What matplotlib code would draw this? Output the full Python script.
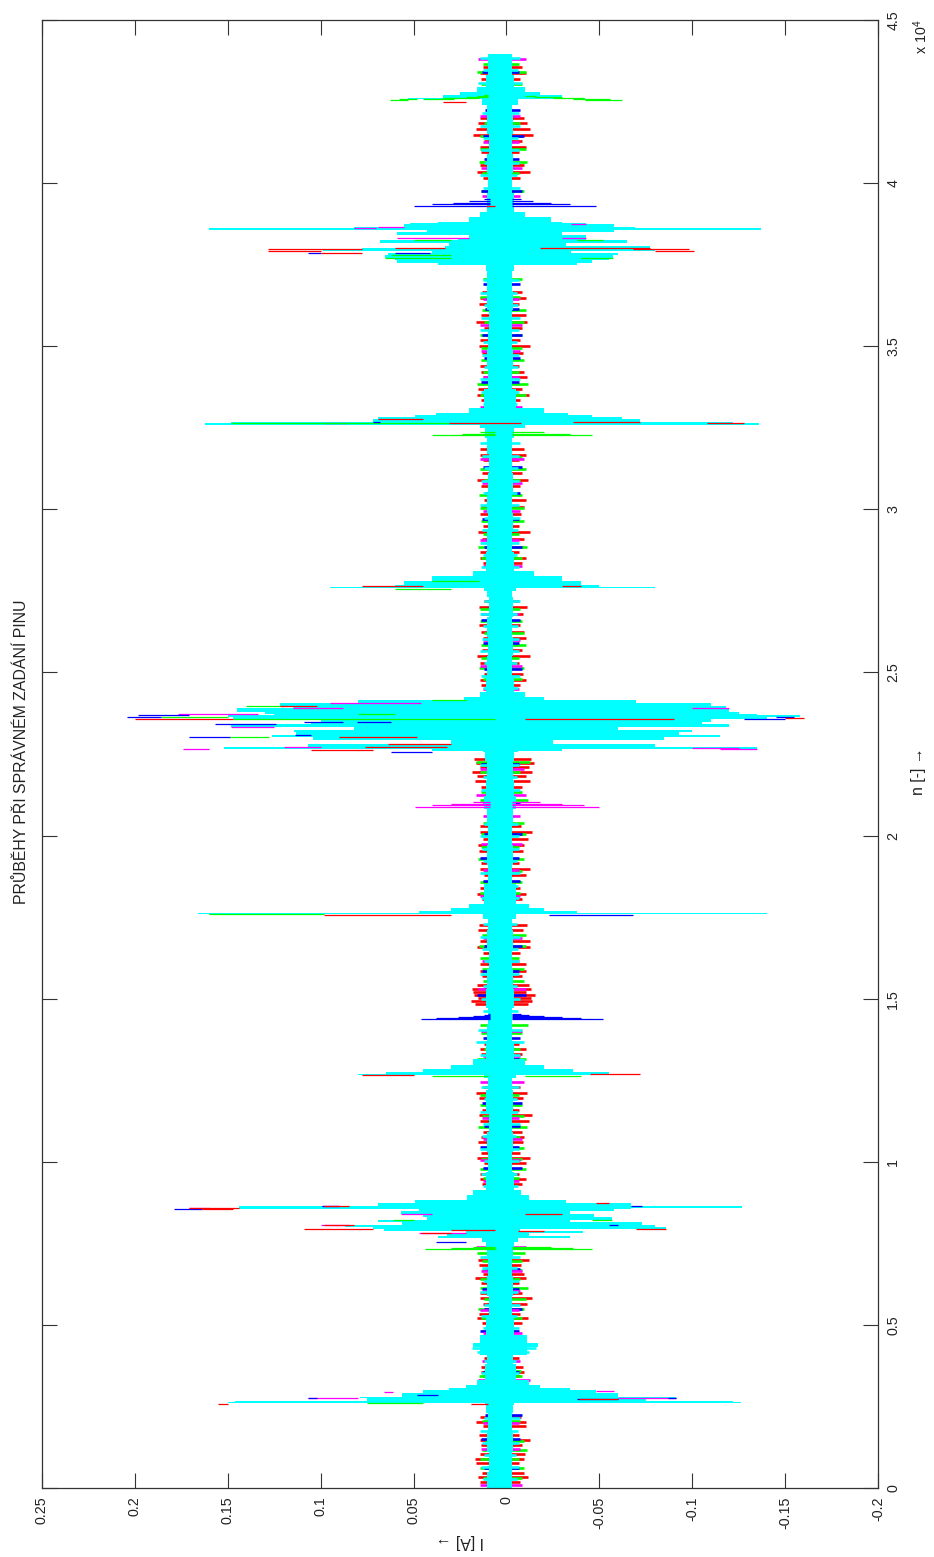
import matplotlib
matplotlib.use("Agg")
import matplotlib.pyplot as plt

plt.rcParams['font.family'] = ['Liberation Sans', 'DejaVu Sans']
plt.rcParams['mathtext.default'] = 'regular'

current_ticks = [0.25, 0.2, 0.15, 0.1, 0.05, 0, -0.05, -0.1, -0.15, -0.2]
current_labels = ['0.25', '0.2', '0.15', '0.1', '0.05', '0', '-0.05', '-0.1', '-0.15', '-0.2']
sample_ticks = [0, 5000, 10000, 15000, 20000, 25000, 30000, 35000, 40000, 45000]
sample_labels = ['0', '0.5', '1', '1.5', '2', '2.5', '3', '3.5', '4', '4.5']

# cyan trace, envelope read row by row (sample, upper, lower)
cyan_n = [0, 500, 1100, 1700, 2300, 2540,
          2600, 2640, 2680, 2750, 2800, 2880, 2920, 3000, 3080, 3170, 3300,
          3800, 4080, 4320, 4440, 4700, 5300, 5900, 6500, 7100, 7330, 7540, 7660, 7720,
          7810, 7880, 7940, 8000, 8060, 8150, 8215, 8320, 8400, 8490, 8550, 8580, 8640, 8730, 8830, 8980, 9150,
          9700, 10300, 10900, 11500, 12200, 12560,
          12650, 12700, 12760, 12850, 12980, 13150,
          13700, 14200, 14700, 15300, 15900, 16500, 17100, 17450,
          17590, 17630, 17680, 17780, 17900,
          18500, 19100, 19700, 20300, 20800, 21200, 21700, 22300, 22560,
          22600, 22650, 22710, 22800, 22925, 23020, 23080, 23170, 23230, 23325, 23415, 23480, 23570, 23630,
          23690, 23720, 23780, 23900, 23970, 24060, 24150, 24250, 24400,
          24900, 25500, 26100, 26700, 27300, 27500,
          27580, 27620, 27680, 27800, 27950, 28100,
          28700, 29300, 29900, 30500, 31100, 31700, 32200,
          32500, 32580, 32640, 32680, 32760, 32820, 32880, 32960, 33100,
          33700, 34300, 34900, 35500, 36100, 36700, 37300,
          37490, 37550, 37640, 37700, 37790, 37860, 37920, 37970, 38010, 38070, 38160, 38250, 38310, 38400, 38500,
          38560, 38620, 38650, 38740, 38770, 38800, 38950, 39100,
          39700, 40300, 40900, 41500, 42100, 42400,
          42570, 42620, 42700, 42800, 42950,
          43300, 43700, 43950]
cyan_hi = [0.0105, 0.0095, 0.0105, 0.0098, 0.0108, 0.0115,
           0.150, 0.146, 0.075, 0.079, 0.056, 0.056, 0.045, 0.031, 0.022, 0.016, 0.0115,
           0.0105, 0.014, 0.018, 0.014, 0.011, 0.0095, 0.0105, 0.0098, 0.0105, 0.011, 0.013, 0.037, 0.032,
           0.022, 0.066, 0.072, 0.087, 0.056, 0.069, 0.043, 0.045, 0.057, 0.047, 0.147, 0.144, 0.069, 0.049, 0.021, 0.018, 0.011,
           0.0098, 0.0105, 0.0095, 0.0108, 0.010, 0.012,
           0.080, 0.065, 0.045, 0.030, 0.018, 0.011,
           0.0102, 0.0098, 0.011, 0.0105, 0.0095, 0.0105, 0.010, 0.0125,
           0.166, 0.047, 0.030, 0.020, 0.012,
           0.0098, 0.0105, 0.010, 0.0105, 0.012, 0.011, 0.0105, 0.0115, 0.0125,
           0.040, 0.152, 0.1066, 0.030, 0.104, 0.126, 0.1135, 0.1146, 0.082, 0.148, 0.105, 0.100, 0.147, 0.150,
           0.125, 0.130, 0.145, 0.115, 0.122, 0.080, 0.023, 0.014, 0.011,
           0.0102, 0.0098, 0.0105, 0.0095, 0.0105, 0.012,
           0.095, 0.060, 0.055, 0.040, 0.018, 0.011,
           0.0105, 0.0098, 0.0105, 0.010, 0.0095, 0.0105, 0.0115,
           0.014, 0.162, 0.148, 0.072, 0.069, 0.049, 0.038, 0.020, 0.012,
           0.0098, 0.0105, 0.010, 0.0095, 0.0105, 0.0102, 0.011,
           0.037, 0.059, 0.060, 0.0656, 0.0635, 0.040, 0.0985, 0.078, 0.033, 0.031, 0.068, 0.026, 0.020, 0.059, 0.0425,
           0.160, 0.082, 0.055, 0.052, 0.037, 0.020, 0.014, 0.0105,
           0.0098, 0.0105, 0.0095, 0.0102, 0.0105, 0.013,
           0.053, 0.034, 0.025, 0.016, 0.011,
           0.010, 0.0098, 0.0098]
cyan_lo = [-0.0032, -0.0028, -0.0035, -0.003, -0.0035, -0.004,
           -0.126, -0.122, -0.075, -0.0915, -0.060, -0.060, -0.048, -0.034, -0.018, -0.012, -0.005,
           -0.0035, -0.011, -0.017, -0.011, -0.004, -0.003, -0.0035, -0.003, -0.0035, -0.004, -0.006, -0.034, -0.012,
           -0.041, -0.0075, -0.086, -0.080, -0.073, -0.034, -0.057, -0.047, -0.034, -0.058, -0.067, -0.127, -0.067, -0.032, -0.012, -0.008, -0.004,
           -0.003, -0.0035, -0.0028, -0.0035, -0.003, -0.005,
           -0.072, -0.055, -0.036, -0.020, -0.010, -0.004,
           -0.003, -0.0032, -0.004, -0.0035, -0.003, -0.0035, -0.003, -0.005,
           -0.140, -0.038, -0.020, -0.012, -0.005,
           -0.003, -0.0035, -0.0032, -0.0035, -0.005, -0.004, -0.0035, -0.004, -0.006,
           -0.030, -0.135, -0.080, -0.025, -0.085, -0.115, -0.093, -0.100, -0.060, -0.120, -0.105, -0.110, -0.140, -0.158,
           -0.135, -0.125, -0.120, -0.118, -0.110, -0.070, -0.020, -0.010, -0.004,
           -0.003, -0.0035, -0.003, -0.0035, -0.003, -0.005,
           -0.080, -0.050, -0.040, -0.030, -0.015, -0.004,
           -0.003, -0.0035, -0.003, -0.0035, -0.003, -0.0032, -0.004,
           -0.010, -0.136, -0.122, -0.072, -0.062, -0.046, -0.033, -0.020, -0.005,
           -0.003, -0.0035, -0.0032, -0.003, -0.0035, -0.003, -0.004,
           -0.038, -0.046, -0.055, -0.0575, -0.060, -0.035, -0.080, -0.068, -0.0775, -0.032, -0.065, -0.043, -0.043, -0.030, -0.058,
           -0.137, -0.069, -0.058, -0.043, -0.030, -0.024, -0.010, -0.004,
           -0.003, -0.0035, -0.003, -0.0035, -0.0032, -0.006,
           -0.0425, -0.030, -0.018, -0.010, -0.004,
           -0.003, -0.0032, -0.003]

# short cyan tips sticking out of the band (sample, upper, lower)
cyan_tip_n = [270, 640, 1010, 1390, 1760, 2140, 3520, 3900, 4180, 4280, 4380, 4900, 5260, 5620, 6000, 6360, 6730, 7080,
              9260, 9640, 10020, 10400, 10780, 11160, 11540, 11920, 12300, 13280, 13660, 14040, 14620, 15000, 15380, 15760, 16140, 16520, 16900, 17280,
              18080, 18460, 18840, 19220, 19600, 19980, 20360, 21400, 21780, 22160,
              24520, 24900, 25280, 25660, 26040, 26420, 26800, 27180, 28220, 28600, 28980, 29360, 29740, 30120, 30500, 30880, 31260, 31640, 32020,
              33220, 33600, 33980, 34360, 34740, 35120, 35500, 35880, 36260, 36640, 37020,
              39080, 39860, 40240, 40620, 41000, 41380, 41760, 42140, 43080, 43460, 43840]
cyan_tip_hi = [0.0125, 0.0135, 0.012, 0.013, 0.0145, 0.012, 0.0135, 0.012, 0.016, 0.0185, 0.0165, 0.0125, 0.0135, 0.012, 0.014, 0.0125, 0.013, 0.0145,
               0.0125, 0.0135, 0.012, 0.014, 0.013, 0.0125, 0.0145, 0.012, 0.0135, 0.0145, 0.0165, 0.0155, 0.0125, 0.0135, 0.0125, 0.014, 0.012, 0.013, 0.0145, 0.0125,
               0.0135, 0.012, 0.014, 0.0125, 0.013, 0.0145, 0.012, 0.0135, 0.0125, 0.014,
               0.0125, 0.0135, 0.012, 0.0145, 0.013, 0.0125, 0.014, 0.012, 0.0135, 0.0125, 0.0145, 0.013, 0.012, 0.014, 0.0125, 0.0135, 0.012, 0.013, 0.0145,
               0.0125, 0.0135, 0.0145, 0.012, 0.013, 0.0125, 0.0145, 0.0135, 0.012, 0.014, 0.0125,
               0.013, 0.0125, 0.0145, 0.012, 0.0135, 0.0125, 0.014, 0.013, 0.0155, 0.0125, 0.014]
cyan_tip_lo = [-0.0055, -0.0065, -0.005, -0.007, -0.006, -0.0075, -0.0065, -0.005, -0.012, -0.016, -0.0125, -0.0065, -0.0055, -0.0075, -0.006, -0.0065, -0.0055, -0.0075,
               -0.006, -0.0055, -0.007, -0.0065, -0.005, -0.0075, -0.006, -0.0055, -0.007, -0.0075, -0.0095, -0.0085, -0.006, -0.0075, -0.0055, -0.0065, -0.007, -0.006, -0.0075, -0.0055,
               -0.0065, -0.006, -0.0075, -0.0055, -0.0065, -0.007, -0.006, -0.0075, -0.0055, -0.0065,
               -0.006, -0.0075, -0.0055, -0.0065, -0.007, -0.006, -0.0055, -0.0075, -0.0065, -0.0055, -0.007, -0.006, -0.0075, -0.0065, -0.0055, -0.007, -0.006, -0.0065, -0.0075,
               -0.0055, -0.0065, -0.0075, -0.006, -0.007, -0.0055, -0.0065, -0.0075, -0.006, -0.0055, -0.007,
               -0.0065, -0.0075, -0.0055, -0.0065, -0.007, -0.006, -0.0075, -0.0065, -0.0085, -0.006, -0.0075]

# small tips of each trace around the cyan band (sample, upper, lower)
red_n = [180, 460, 760, 1040, 1330, 1620, 1900, 2180, 3420, 3700, 3980, 5050, 5340, 5650, 5980, 6280, 6560, 6850,
         9320, 9620, 9960, 10280, 10600, 10900, 11240, 11600, 11950, 12280, 13300, 13620, 14840, 15020, 15200, 15420,
         15700, 16050, 16400, 16780, 17120, 18050, 18400, 18780, 19150, 19520, 19900, 20300, 21500, 21820, 22100, 22350,
         24600, 24950, 25300, 25700, 26050, 26450, 26800, 27200, 28350, 28700, 29100, 29500, 29850, 30300, 30700, 31100,
         31500, 31850, 33350, 33700, 34050, 34400, 34800, 35200, 35550, 35950, 36300, 36650, 40150, 40550, 40950, 41300, 41650, 42000, 43200, 43550,
         330, 900, 1480, 2020, 3560, 5200, 5820, 6430, 7000, 9470, 10120, 10750, 11420, 12120, 13460, 14930, 15110, 15310, 15860, 16590, 17270,
         18220, 18960, 19710, 20110, 21660, 21960, 22230, 24780, 25500, 26250, 27000, 28520, 29300, 30080, 30900, 31680, 33520, 34220, 35000, 35750, 36480,
         40350, 41120, 41480, 41830, 43380]
red_hi = [0.0145, 0.013, 0.0165, 0.014, 0.0135, 0.015, 0.0125, 0.0145, 0.0125, 0.0135, 0.012, 0.013, 0.015, 0.0125, 0.014, 0.0135, 0.0125, 0.015,
          0.013, 0.0145, 0.012, 0.0135, 0.0155, 0.0125, 0.014, 0.013, 0.015, 0.0125, 0.0135, 0.012, 0.017, 0.0155, 0.018, 0.016,
          0.013, 0.0145, 0.0125, 0.014, 0.0155, 0.013, 0.0145, 0.012, 0.0135, 0.015, 0.0125, 0.014, 0.0135, 0.016, 0.0145, 0.0175,
          0.0135, 0.012, 0.0145, 0.013, 0.0125, 0.015, 0.0135, 0.012, 0.0125, 0.014, 0.013, 0.0125, 0.0145, 0.012, 0.0135, 0.013,
          0.0125, 0.014, 0.0135, 0.0155, 0.0125, 0.014, 0.013, 0.0145, 0.012, 0.0135, 0.015, 0.013, 0.0125, 0.0145, 0.0135, 0.012, 0.0165, 0.014, 0.0135, 0.0125,
          0.0155, 0.017, 0.0145, 0.0165, 0.0135, 0.016, 0.0145, 0.017, 0.0155, 0.0145, 0.016, 0.0135, 0.015, 0.0165, 0.014, 0.019, 0.0175, 0.0185, 0.0145, 0.016, 0.015,
          0.016, 0.014, 0.0155, 0.0145, 0.017, 0.0185, 0.0165, 0.0145, 0.016, 0.0135, 0.015, 0.0145, 0.0155, 0.0135, 0.016, 0.0145, 0.016, 0.0135, 0.015, 0.0165, 0.014,
          0.016, 0.0145, 0.018, 0.0155, 0.0145]
red_lo = [-0.0075, -0.0095, -0.0065, -0.010, -0.0085, -0.007, -0.0105, -0.008, -0.0075, -0.009, -0.0065, -0.0085, -0.0075, -0.011, -0.0085, -0.007, -0.0095, -0.008,
          -0.0085, -0.0065, -0.0105, -0.0075, -0.009, -0.0085, -0.012, -0.007, -0.009, -0.0075, -0.0085, -0.0065, -0.0115, -0.013, -0.0105, -0.012,
          -0.0085, -0.0105, -0.0075, -0.0125, -0.009, -0.0085, -0.0075, -0.0105, -0.0065, -0.009, -0.0115, -0.008, -0.0085, -0.0105, -0.012, -0.013,
          -0.0075, -0.009, -0.0065, -0.0085, -0.0105, -0.0075, -0.009, -0.0065, -0.0085, -0.007, -0.0095, -0.0065, -0.008, -0.0105, -0.0075, -0.0085,
          -0.0065, -0.0095, -0.0075, -0.0085, -0.011, -0.0065, -0.009, -0.0075, -0.0085, -0.0105, -0.007, -0.0085, -0.0075, -0.0095, -0.0065, -0.0085, -0.0125, -0.0095, -0.0075, -0.0085,
          -0.0115, -0.0095, -0.0125, -0.0105, -0.0095, -0.0115, -0.0135, -0.0105, -0.012, -0.0105, -0.0125, -0.0095, -0.0135, -0.011, -0.0105, -0.014, -0.0155, -0.013, -0.0105, -0.0125, -0.011,
          -0.0105, -0.0125, -0.0095, -0.0135, -0.0125, -0.014, -0.015, -0.0105, -0.0125, -0.0095, -0.011, -0.0105, -0.0125, -0.0095, -0.0115, -0.0105, -0.012, -0.0095, -0.0125, -0.011, -0.0105,
          -0.0125, -0.0105, -0.0145, -0.011, -0.0105]

green_n = [320, 880, 1450, 2050, 3600, 4520, 5200, 5800, 6400, 6950, 7200, 9500, 10100, 10750, 11400, 12050, 13450, 13950, 15550, 16250, 16950,
           18250, 18900, 19650, 20400, 21350, 21950, 24800, 25450, 26200, 26950, 28500, 29250, 30050, 30900, 31600, 33500, 34200, 34950, 35750, 36500,
           37050, 40300, 41050, 41850, 43050, 43650,
           600, 1180, 3440, 4660, 5480, 6120, 6680, 9780, 10430, 11080, 11730, 13150, 14200, 15900, 16600, 18580, 19280, 20050, 21090, 22250,
           25130, 25830, 26580, 28860, 29630, 30450, 31250, 33850, 34580, 35330, 36120, 39750, 40650, 41450, 43400]
green_hi = [0.0125, 0.014, 0.0115, 0.013, 0.012, 0.0125, 0.0135, 0.012, 0.014, 0.013, 0.016, 0.0125, 0.0135, 0.012, 0.013, 0.0145, 0.012, 0.0135, 0.0125, 0.014, 0.013,
            0.0145, 0.012, 0.0135, 0.0125, 0.0135, 0.014, 0.0125, 0.0135, 0.012, 0.014, 0.0135, 0.0125, 0.014, 0.012, 0.013, 0.0145, 0.0125, 0.0135, 0.012, 0.0145,
            0.0125, 0.013, 0.0145, 0.012, 0.0135, 0.0125,
            0.0145, 0.013, 0.015, 0.0135, 0.0155, 0.014, 0.013, 0.0145, 0.0135, 0.0155, 0.014, 0.016, 0.0145, 0.013, 0.015, 0.014, 0.0155, 0.0135, 0.014, 0.0165,
            0.015, 0.0135, 0.014, 0.0155, 0.0135, 0.015, 0.014, 0.016, 0.0135, 0.0145, 0.013, 0.0135, 0.015, 0.014, 0.016]
green_lo = [-0.0085, -0.0065, -0.0095, -0.0075, -0.008, -0.0065, -0.0085, -0.0105, -0.0075, -0.0085, -0.010, -0.0065, -0.0085, -0.0075, -0.0095, -0.0065, -0.0075, -0.0085, -0.0095, -0.0065, -0.0105,
            -0.0075, -0.0085, -0.0065, -0.0095, -0.0085, -0.0075, -0.0085, -0.0065, -0.0095, -0.0075, -0.0085, -0.0065, -0.0095, -0.0075, -0.0085, -0.0105, -0.0065, -0.0085, -0.0095, -0.0075,
            -0.0085, -0.0065, -0.0105, -0.0075, -0.0085, -0.0065,
            -0.0095, -0.011, -0.0085, -0.0105, -0.0095, -0.0115, -0.0085, -0.0105, -0.0095, -0.011, -0.0085, -0.0105, -0.0115, -0.0095, -0.0105, -0.0085, -0.0095, -0.0105, -0.0115, -0.0125,
            -0.0095, -0.0105, -0.0085, -0.011, -0.0095, -0.0085, -0.0105, -0.0115, -0.0095, -0.0085, -0.0105, -0.0095, -0.011, -0.0085, -0.0105]

blue_n = [600, 1500, 2250, 3550, 4800, 5500, 6100, 6700, 9800, 10450, 11100, 11800, 13150, 13800, 15100, 15850, 16600, 18600, 19300, 20050, 21000, 22200,
          25100, 25900, 26600, 28850, 29700, 30500, 31300, 33900, 34650, 35350, 36150, 36900, 39750, 40750, 41450, 42250, 43400]
blue_hi = [0.012, 0.0135, 0.0115, 0.0125, 0.014, 0.012, 0.013, 0.0115, 0.0125, 0.014, 0.012, 0.013, 0.0115, 0.0125, 0.016, 0.013, 0.012, 0.0125, 0.014, 0.012, 0.0125, 0.0135,
           0.012, 0.0125, 0.0135, 0.012, 0.013, 0.0115, 0.0125, 0.0135, 0.012, 0.013, 0.0115, 0.0125, 0.0135, 0.012, 0.0125, 0.0115, 0.013]
blue_lo = [-0.0065, -0.0075, -0.0085, -0.007, -0.0065, -0.0085, -0.0065, -0.0075, -0.0085, -0.0065, -0.0075, -0.0085, -0.0065, -0.0075, -0.0105, -0.0065, -0.0085, -0.0075, -0.0065, -0.0085, -0.0075, -0.0065,
           -0.0085, -0.0065, -0.0075, -0.0085, -0.0065, -0.0075, -0.0085, -0.0065, -0.0075, -0.0085, -0.0065, -0.0075, -0.0085, -0.0065, -0.0095, -0.0075, -0.0065]

magenta_n = [80, 1200, 2000, 3300, 3880, 4750, 5450, 6050, 6650, 7400, 9400, 10050, 10700, 11350, 12450, 13250, 14000, 15300, 16150, 16850, 18150, 18950, 19750, 20600,
             21250, 22050, 24500, 25200, 26000, 26800, 28250, 29050, 29950, 30800, 31550, 33150, 34050, 34850, 35650, 36450, 39600, 40450, 41250, 42050, 43800]
magenta_hi = [0.0145, 0.0135, 0.0125, 0.0155, 0.013, 0.0125, 0.014, 0.0125, 0.0135, 0.0165, 0.0125, 0.014, 0.0125, 0.013, 0.0145, 0.0125, 0.0135, 0.0155, 0.013, 0.0125, 0.014, 0.0125, 0.0135, 0.0125,
              0.0165, 0.0145, 0.0125, 0.014, 0.0125, 0.013, 0.0125, 0.014, 0.0125, 0.013, 0.0145, 0.0145, 0.0125, 0.0135, 0.014, 0.0125, 0.013, 0.0135, 0.0125, 0.014, 0.0155]
magenta_lo = [-0.0085, -0.0075, -0.0065, -0.0125, -0.0075, -0.0085, -0.0065, -0.0075, -0.0085, -0.0105, -0.0065, -0.0075, -0.0085, -0.0065, -0.0095, -0.0075, -0.0085, -0.0105, -0.0065, -0.0085, -0.0075, -0.0065, -0.0085, -0.0075,
              -0.0105, -0.0095, -0.0065, -0.0085, -0.0075, -0.0065, -0.0085, -0.0065, -0.0075, -0.0085, -0.0095, -0.0085, -0.0065, -0.0075, -0.0085, -0.0065, -0.0075, -0.0085, -0.0065, -0.0075, -0.0105]

# long spike pieces that stay visible over the cyan trace (sample, from, to)
red_burst_n = [2560, 2590, 2720, 7900, 8590, 8550, 8640, 8730, 8400, 8060, 7940, 7940, 7890, 7810, 12660, 12700, 17580,
               22620, 22710, 22800, 23020, 23570, 23570, 23590, 23970, 27640, 27650, 32640, 32640, 32680, 32760, 38010, 38010, 37970, 37970, 37920, 37920, 37860, 39300, 42500]
red_burst_a = [0.019, 0.155, -0.039, 0.030, 0.171, 0.164, 0.098, -0.048, -0.010, 0.098, 0.109, -0.070, -0.006, 0.046, 0.078, -0.045, 0.098,
               0.105, 0.076, 0.064, 0.090, 0.200, -0.090, -0.150, 0.122, 0.078, -0.040, 0.031, -0.108, -0.036, 0.069, 0.060, -0.018, 0.1286, -0.068, 0.1286, -0.080, 0.100, 0.011, 0.034]
red_burst_b = [0.010, 0.150, -0.060, 0.006, 0.144, 0.147, 0.085, -0.055, -0.030, 0.082, 0.072, -0.086, -0.020, 0.030, 0.050, -0.072, 0.030,
               0.072, 0.032, 0.030, 0.048, 0.147, -0.010, -0.160, 0.102, 0.045, -0.030, -0.008, -0.128, -0.072, 0.045, 0.033, -0.0775, 0.078, -0.098, 0.100, -0.101, 0.078, 0.006, 0.022]

green_burst_n = [2610, 7320, 7350, 7380, 8215, 8215, 12620, 12640, 17590, 23010, 23570, 23630, 23720, 23970, 24150, 27560, 27800, 32280, 32320, 32360, 32640,
                 37790, 37700, 37700, 38250, 38250, 42560, 42570, 42590, 42620, 42650, 42680, 42710, 42560, 42590, 42620, 42650, 42680,
                 7320, 7350, 7380, 32280, 32320, 32360]
green_burst_a = [0.075, 0.0440, 0.030, 0.018, 0.061, -0.046, 0.040, -0.040, 0.160, 0.149, 0.147, 0.186, 0.080, 0.140, 0.040, 0.060, 0.040, 0.040, 0.024, 0.014, 0.148,
                 0.062, 0.0656, -0.040, 0.050, -0.038, 0.0625, 0.058, 0.045, 0.034, 0.022, 0.016, 0.012, -0.0425, -0.036, -0.025, -0.015, -0.010,
                 -0.003, -0.003, -0.003, -0.003, -0.003, -0.003]
green_burst_b = [0.045, 0.0054, 0.006, 0.006, 0.050, -0.057, 0.010, -0.010, 0.098, 0.128, 0.006, 0.150, 0.060, 0.120, 0.022, 0.030, 0.015, 0.006, 0.006, 0.006, 0.031,
                 0.030, 0.030, -0.0575, 0.030, -0.052, 0.053, 0.048, 0.028, 0.015, 0.010, 0.010, 0.010, -0.062, -0.056, -0.042, -0.030, -0.016,
                 -0.046, -0.036, -0.024, -0.046, -0.034, -0.020]

blue_burst_n = [2750, 2750, 2730, 2840, 8550, 8640, 8640, 8060, 7540, 14370, 14400, 14430, 14460, 14490, 14520, 14370, 14400, 14430, 14460, 14490, 14520, 17580,
                22560, 23020, 23080, 23415, 23480, 23480, 23630, 23690, 23570, 39300, 39350, 39400, 39450, 39500, 39300, 39350, 39400, 39450, 39500,
                37860, 37860, 32680, 23630]
blue_burst_a = [0.1066, -0.087, -0.038, 0.048, 0.179, 0.0995, -0.067, -0.060, 0.038, 0.046, 0.038, 0.026, 0.018, 0.012, 0.010, -0.052, -0.040, -0.030, -0.020, -0.012, -0.008, -0.023,
                0.062, 0.171, 0.114, 0.157, 0.109, 0.0806, 0.204, 0.1985, -0.128, 0.050, 0.040, 0.0285, 0.020, 0.012, -0.048, -0.034, -0.024, -0.0145, -0.008,
                0.1066, 0.060, 0.072, -0.155]
blue_burst_b = [0.102, -0.0915, -0.060, 0.037, 0.164, 0.090, -0.073, -0.055, 0.022, 0.009, 0.009, 0.009, 0.009, 0.009, 0.009, -0.003, -0.003, -0.003, -0.003, -0.003, -0.003, -0.068,
                0.040, 0.149, 0.105, 0.124, 0.088, 0.062, 0.186, 0.171, -0.150, 0.009, 0.009, 0.009, 0.009, 0.009, -0.003, -0.003, -0.003, -0.003, -0.003,
                0.100, 0.041, 0.068, -0.145]

magenta_burst_n = [2750, 2750, 2950, 2960, 8590, 8640, 8400, 8060, 7810, 20880, 20930, 20980, 21030, 20880, 20930, 20980, 21030, 22650, 22710, 23325, 23720, 23900, 24060,
                   32640, 38650, 38310, 38310, 38620, 22650, 22680, 23900, 38740]
magenta_burst_a = [0.1066, -0.060, 0.066, -0.048, 0.171, 0.0995, 0.057, 0.100, 0.047, 0.049, 0.040, 0.030, 0.018, -0.050, -0.042, -0.030, -0.018, 0.174, 0.120, 0.148, 0.177, 0.115, 0.095,
                   0.098, 0.069, 0.059, -0.030, 0.082, -0.135, -0.125, -0.100, -0.035]
magenta_burst_b = [0.080, -0.0915, 0.061, -0.058, 0.160, 0.090, 0.040, 0.085, 0.022, 0.009, 0.009, 0.009, 0.009, -0.003, -0.003, -0.003, -0.003, 0.160, 0.100, 0.125, 0.134, 0.088, 0.046,
                   0.085, 0.055, 0.020, -0.043, 0.070, -0.115, -0.100, -0.120, -0.043]

fig = plt.figure(figsize=(9.34, 15.57), dpi=100)
ax = fig.add_axes([42 / 934, 1 - 1488 / 1557, 836 / 934, 1468 / 1557])

ax.hlines(red_n, red_lo, red_hi, colors='r', lw=1.9, zorder=1)
ax.hlines(green_n, green_lo, green_hi, colors='lime', lw=1.9, zorder=1)
ax.hlines(blue_n, blue_lo, blue_hi, colors='b', lw=1.9, zorder=1)
ax.hlines(magenta_n, magenta_lo, magenta_hi, colors='magenta', lw=1.9, zorder=1)

ax.hlines(cyan_tip_n, cyan_tip_lo, cyan_tip_hi, colors='cyan', lw=1.9, zorder=1.5)
ax.fill_betweenx(cyan_n, cyan_lo, cyan_hi, step='post', color='cyan', lw=0, zorder=2)

ax.hlines(magenta_burst_n, magenta_burst_a, magenta_burst_b, colors='magenta', lw=0.9, zorder=3)
ax.hlines(green_burst_n, green_burst_a, green_burst_b, colors='lime', lw=0.9, zorder=3)
ax.hlines(blue_burst_n, blue_burst_a, blue_burst_b, colors='b', lw=0.9, zorder=3)
ax.hlines(red_burst_n, red_burst_a, red_burst_b, colors='r', lw=0.9, zorder=3)

ax.set_xlim(0.25, -0.2)
ax.set_ylim(0, 45000)
ax.set_xticks(current_ticks)
ax.set_xticklabels(current_labels, rotation=90, ha='center', va='top')
ax.set_yticks(sample_ticks)
ax.set_yticklabels(sample_labels, rotation=90, ha='left', va='center')
ax.tick_params(axis='both', direction='in', length=11, width=0.8, color='#333333',
               labelcolor='#222222', labelsize=10.3, top=True, right=True,
               left=True, labelleft=False, labelright=True, pad=6)
for spine in ax.spines.values():
    spine.set_linewidth(0.9)
    spine.set_color('#333333')

fig.text(22 / 934, 1 - 752 / 1557, 'PRŮBĚHY PŘI SPRÁVNÉM ZADÁNÍ PINU', rotation=90,
         ha='center', va='center', fontsize=11.4, color='#222222')
fig.text(460 / 934, 1 - 1541 / 1557, 'I [A] →', rotation=180,
         ha='center', va='center', fontsize=11.4, color='#222222')
fig.text(918 / 934, 1 - 771 / 1557, 'n [-] →', rotation=90,
         ha='center', va='center', fontsize=11.4, color='#222222')
fig.text(921 / 934, 1 - 37 / 1557, 'x 10$^4$', rotation=90,
         ha='center', va='center', fontsize=10.3, color='#222222')

fig.savefig('out.png', dpi=100)
